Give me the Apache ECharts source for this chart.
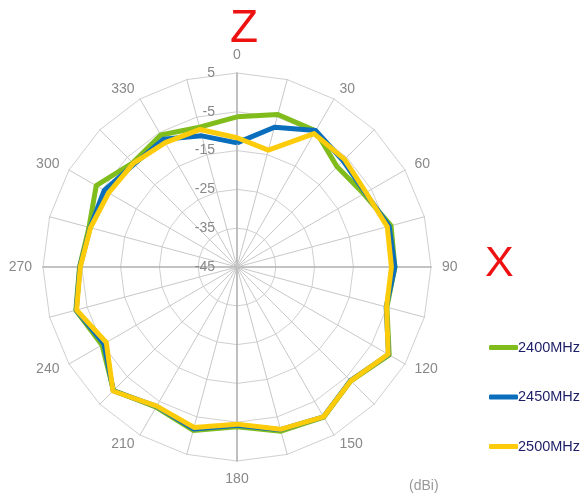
<!DOCTYPE html>
<html>
<head>
<meta charset="utf-8">
<script src="https://cdn.jsdelivr.net/npm/echarts@6/dist/echarts.min.js"></script>
<style>
html,body{margin:0;padding:0;background:#fff;}
#c{width:584px;height:497px;}
</style>
</head>
<body>
<div id="c"></div>
<script>
// Angles (degrees, clockwise from top) and labels
const angles = [0,15,30,45,60,75,90,105,120,135,150,165,180,195,210,225,240,255,270,285,300,315,330,345];
const angleLabels = ['0','','30','','60','','90','','120','','150','','180','','210','','240','','270','','300','','330',''];
const seriesNames = ['2400MHz','2450MHz','2500MHz'];
// gain in dBi at each angle
const gain2400 = [-6.3,-4.3,-4.5,-8.5,-7.3,-3.9,-4.3,-5.0,0.3,-3.5,-0.3,-1.2,-3.8,-1.4,-3.3,0.0,-4.8,-2.0,-4.4,-5.5,-3.1,-7.0,-5.7,-7.7];
const gain2450 = [-13.0,-7.7,-4.4,-6.3,-6.8,-4.4,-4.3,-5.2,0.1,-3.6,-0.4,-1.6,-4.2,-1.8,-3.5,0.1,-5.4,-2.1,-4.5,-5.8,-5.5,-7.5,-7.0,-10.0];
const gain2500 = [-11.7,-13.8,-5.3,-5.8,-6.6,-4.9,-5.2,-5.1,0.0,-3.5,-0.4,-1.7,-4.5,-2.2,-3.6,0.2,-6.1,-2.2,-4.6,-5.9,-6.8,-7.2,-8.0,-8.3];
const rMin = -45, rMax = 5;

const colors = ['#80bd1c','#0a6ebd','#fccb0a'];

// radar places indicators counter-clockwise, so feed them in reverse (0, 345, 330, ...)
const order = angles.map((a, i) => (angles.length - i) % angles.length);
const indicator = order.map((idx, k) => {
  const o = {name: angleLabels[idx], min: rMin, max: rMax};
  if (k === 0) o.axisLabel = {show: true};
  if (angles[idx] % 90 === 0) o.axisLine = {lineStyle: {color: '#b0b0b0', width: 1.6}};
  return o;
});
const reorder = arr => order.map(idx => arr[idx]);

const chart = echarts.init(document.getElementById('c'), null, {renderer: 'canvas'});
chart.setOption({
  animation: false,
  backgroundColor: '#ffffff',
  color: colors,
  title: [
    {text: 'Z', left: 225, top: 1, textStyle: {color: '#ee1111', fontSize: 46, fontWeight: 'normal', fontFamily: 'Liberation Sans'}},
    {text: 'X', left: 480, top: 238, textStyle: {color: '#ee1111', fontSize: 43, fontWeight: 'normal', fontFamily: 'Liberation Sans'}},
    {text: '(dBi)', left: 404, top: 474, textStyle: {color: '#999999', fontSize: 14, fontWeight: 'normal', fontFamily: 'Liberation Sans'}}
  ],
  legend: {
    orient: 'vertical',
    left: 484, top: 335,
    itemWidth: 29, itemHeight: 5,
    itemGap: 34.5,
    icon: 'roundRect',
    textStyle: {color: '#1d1f66', fontSize: 14.5, fontFamily: 'Liberation Sans', padding: [0,0,0,-5]},
    data: seriesNames
  },
  radar: {
    center: [237, 267],
    radius: 194,
    startAngle: 90,
    shape: 'polygon',
    splitNumber: 5,
    indicator: indicator,
    axisName: {color: '#888888', fontSize: 14, fontFamily: 'Liberation Sans'},
    nameGap: 11,
    axisLine: {lineStyle: {color: '#c8c8c8', width: 1}},
    splitLine: {lineStyle: {color: '#d0d0d0', width: 1}},
    splitArea: {show: false},
    axisTick: {show: false},
    axisLabel: {show: false, color: '#888888', fontSize: 14, fontFamily: 'Liberation Sans', margin: 22}
  },
  series: [{
    type: 'radar',
    symbol: 'none',
    data: [
      {name: seriesNames[0], value: reorder(gain2400), lineStyle: {color: colors[0], width: 5}, itemStyle: {color: colors[0]}},
      {name: seriesNames[1], value: reorder(gain2450), lineStyle: {color: colors[1], width: 5}, itemStyle: {color: colors[1]}},
      {name: seriesNames[2], value: reorder(gain2500), lineStyle: {color: colors[2], width: 5}, itemStyle: {color: colors[2]}}
    ]
  }]
});
</script>
</body>
</html>
